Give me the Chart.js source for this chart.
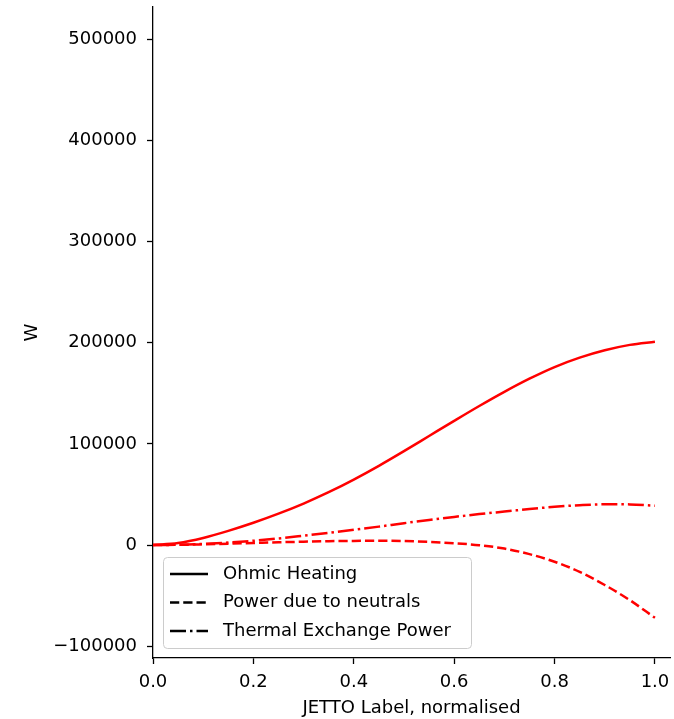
<!DOCTYPE html>
<html>
<head>
<meta charset="utf-8">
<title>Power profiles</title>
<script src="https://cdn.jsdelivr.net/npm/chart.js@4/dist/chart.umd.min.js"></script>
<style>
  html, body { margin: 0; padding: 0; background: #ffffff; }
  #wrap { width: 674px; height: 719px; }
</style>
</head>
<body>
<div id="wrap"><canvas id="chart" width="674" height="719"></canvas></div>
<script>
// Normalised radius (JETTO label)
const rho = [0, 0.05, 0.1, 0.15, 0.2, 0.25, 0.3, 0.35, 0.4, 0.45, 0.5,
             0.55, 0.6, 0.65, 0.7, 0.75, 0.8, 0.85, 0.9, 0.95, 1.0];

// Power terms in W
const ohmicHeating = [0, 2000, 7000, 14000, 22000, 31000, 41000, 52200, 64700, 78300, 92800,
                      107800, 122800, 137500, 151500, 164500, 176000, 185300, 192600, 197900, 201000];
const powerNeutrals = [0, 200, 700, 1300, 2000, 2700, 3300, 3800, 4100, 4200, 3900,
                       3100, 1800, -200, -3500, -9000, -16500, -26500, -39500, -54500, -72000];
const thermalExchange = [0, 300, 1100, 2400, 4200, 6500, 9200, 12000, 15000, 18200, 21600,
                         24800, 27800, 30600, 33100, 35600, 37800, 39400, 40300, 40200, 38800];

const seriesLabels = ['Ohmic Heating', 'Power due to neutrals', 'Thermal Exchange Power'];

const xTicks = [0.0, 0.2, 0.4, 0.6, 0.8, 1.0];
const yTicks = [-100000, 0, 100000, 200000, 300000, 400000, 500000];

const FONT = 'DejaVu Sans';
const FS = 18;
const LW = 2.5;
const dashStyles = [[], [9.25, 4], [16, 4, 2.5, 4]];

function pts(ys) {
  return rho.map((x, i) => ({ x: x, y: ys[i] }));
}

const datasets = [ohmicHeating, powerNeutrals, thermalExchange].map((ys, i) => ({
  label: seriesLabels[i],
  data: pts(ys),
  borderColor: '#ff0000',
  borderWidth: LW,
  borderDash: dashStyles[i],
  pointRadius: 0,
  fill: false,
  cubicInterpolationMode: 'monotone'
}));

// Legend box drawn inside the plot area, lower left
const insideLegend = {
  id: 'insideLegend',
  afterDraw(chart) {
    const { ctx, chartArea } = chart;
    const x0 = chartArea.left + 10;
    const w = 308;
    const h = 91;
    const y0 = chartArea.bottom - 10 - h;
    ctx.save();
    ctx.beginPath();
    ctx.roundRect(x0 + 0.5, y0 + 0.5, w, h, 4);
    ctx.fillStyle = 'rgba(255,255,255,0.8)';
    ctx.fill();
    ctx.strokeStyle = '#cccccc';
    ctx.lineWidth = 1;
    ctx.stroke();
    ctx.font = FS + 'px "' + FONT + '"';
    ctx.textBaseline = 'middle';
    ctx.textAlign = 'left';
    chart.data.datasets.forEach((ds, i) => {
      const yy = y0 + 17 + i * 28.5;
      ctx.beginPath();
      ctx.setLineDash(ds.borderDash);
      ctx.strokeStyle = '#000000';
      ctx.lineWidth = LW;
      ctx.moveTo(x0 + 7, yy);
      ctx.lineTo(x0 + 45, yy);
      ctx.stroke();
      ctx.setLineDash([]);
      ctx.fillStyle = '#000000';
      ctx.fillText(ds.label, x0 + 60, yy);
    });
    ctx.restore();
  }
};

new Chart(document.getElementById('chart'), {
  type: 'line',
  data: { datasets: datasets },
  plugins: [insideLegend],
  options: {
    responsive: false,
    animation: false,
    layout: { padding: { left: 0, top: 7, right: 4, bottom: 0 } },
    plugins: {
      legend: { display: false },
      tooltip: { enabled: false }
    },
    scales: {
      x: {
        type: 'linear',
        min: 0,
        max: 1.03,
        afterBuildTicks: (s) => { s.ticks = xTicks.map(v => ({ value: v })); },
        afterFit: (s) => { s.height = 61; s.paddingLeft = 0; s.paddingRight = 0; },
        ticks: {
          color: '#000000',
          font: { family: FONT, size: FS },
          padding: 8,
          maxRotation: 0,
          callback: (v) => Number(v).toFixed(1)
        },
        grid: {
          drawOnChartArea: false,
          drawTicks: true,
          tickLength: 6,
          tickWidth: 1.3,
          tickColor: '#000000'
        },
        border: { display: true, color: '#000000', width: 1.3 },
        title: {
          display: true,
          text: 'JETTO Label, normalised',
          color: '#000000',
          font: { family: FONT, size: FS },
          padding: { top: 0, bottom: 0 }
        }
      },
      y: {
        type: 'linear',
        min: -111700,
        max: 532000,
        afterBuildTicks: (s) => { s.ticks = yTicks.map(v => ({ value: v })); },
        afterFit: (s) => { s.width = 153; s.paddingTop = 0; s.paddingBottom = 0; },
        ticks: {
          color: '#000000',
          font: { family: FONT, size: FS },
          padding: 10,
          callback: (v) => (v < 0 ? '\u2212' + Math.abs(v) : String(v))
        },
        grid: {
          drawOnChartArea: false,
          drawTicks: true,
          tickLength: 6,
          tickWidth: 1.3,
          tickColor: '#000000'
        },
        border: { display: true, color: '#000000', width: 1.3 },
        title: {
          display: true,
          text: 'W',
          color: '#000000',
          font: { family: FONT, size: FS },
          padding: { top: 22, bottom: 0 }
        }
      }
    }
  }
});
</script>
</body>
</html>
